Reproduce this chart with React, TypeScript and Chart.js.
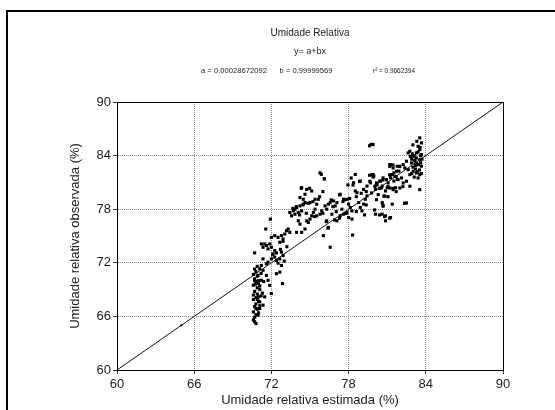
import React, { useEffect, useRef } from "react";
import { Chart, registerables } from "chart.js";

Chart.register(...registerables);

const titleText = "Umidade Relativa";
const modelText = "y= a+bx";
const statA = "a = 0.00028672092";
const statB = "b = 0.99999569";
const statR = "r² = 0.9662394";
const xTitle = "Umidade relativa estimada (%)";
const yTitle = "Umidade relativa observada (%)";
const tickValues = [60, 66, 72, 78, 84, 90];

// observed points [estimated, observed]
const obsX = [
  70.7, 70.8, 70.6, 70.9, 70.7, 70.8, 71.0, 70.6, 70.9, 71.1, 70.7, 70.9, 71.2, 70.8, 70.6, 71.0, 70.8, 70.7, 70.9, 70.6, 70.8, 70.7, 70.6, 70.7, 70.8, 71.0, 71.1, 71.3, 71.2, 70.9, 70.7, 71.0, 70.6, 71.1, 70.8, 71.4,
  70.7, 71.56, 71.92, 71.22, 71.35, 71.61, 71.87, 71.74, 72.0, 71.48,
  71.35, 71.61, 71.74, 72.0, 72.26, 72.39, 72.65, 72.91, 72.78, 72.52, 72.78, 72.13, 72.26,
  71.22, 71.09, 71.35, 71.61, 70.96, 71.22, 71.74, 71.87, 72.0, 71.48, 71.09, 71.35, 71.09, 70.96,
  72.65, 72.86, 72.39,
  72.52, 72.78, 73.04, 73.17, 73.3, 73.43, 72.91, 72.65, 72.26, 72.0,
  73.43, 73.57, 73.7, 73.83, 73.96, 73.83, 74.09, 74.22, 74.35, 74.48, 74.09, 74.22, 73.96, 74.35, 74.61, 74.74, 74.87, 75.0, 75.13, 75.26, 75.39, 75.52, 75.65, 75.0, 74.61, 74.48, 74.22, 74.35, 74.74, 74.61, 75.13, 75.39, 75.52, 75.78, 75.91, 76.17, 76.3, 76.43, 76.57, 76.83, 77.09, 76.96, 76.7, 76.3, 76.43, 76.04, 76.57, 77.09, 77.35, 77.61, 77.87, 77.48, 77.35, 77.61, 77.87, 78.0, 78.13, 78.26, 78.0, 78.26, 78.39, 78.52, 78.65, 78.78, 78.91, 79.04, 79.17, 79.3, 79.43, 79.17, 78.91, 79.43, 79.7, 79.83, 79.96, 80.09, 80.22, 80.48, 80.61, 80.74, 80.87, 81.0, 81.26, 81.39, 81.52, 81.65, 81.78, 81.91, 81.52, 81.26, 81.78, 80.09, 80.61, 80.87, 81.26, 80.87, 81.39, 80.61, 75.78, 76.1, 78.31, 78.52,
  79.76, 79.63, 75.88, 76.13, 74.32, 74.97, 78.34, 78.2, 78.85, 79.63, 79.9, 81.2, 81.45, 81.96, 81.19, 81.7, 80.67, 80.15, 80.4, 81.06, 81.45, 79.37, 78.98, 78.6, 78.08, 77.56, 77.3, 76.65, 76.0, 75.75, 75.23, 74.84, 74.45, 73.93, 73.67, 74.19, 74.71, 75.36, 76.0, 76.78, 77.04, 76.26, 76.39, 76.91, 77.3, 77.82, 78.6, 79.24, 79.37, 80.02, 80.4, 80.8, 81.19, 80.67, 81.06, 81.7, 82.22, 82.35, 77.95, 77.69,
  83.53, 83.66, 83.4, 83.53, 83.27, 83.66, 82.76, 82.63, 83.02, 83.27, 83.53, 83.15, 82.89, 83.4, 83.66, 82.5, 82.24, 82.37, 82.63, 83.02, 83.27, 83.53, 83.4, 82.76, 81.98, 81.72, 81.46, 81.2, 81.33, 81.59, 81.85, 82.11, 82.24, 82.5, 82.76, 81.98, 81.2, 81.46, 80.94, 80.68, 80.42, 80.17, 79.91, 80.81, 80.68, 80.17, 80.3, 82.5, 83.53, 79.91, 79.65, 80.04, 79.78, 80.55, 81.07,
  83.1, 83.3, 83.6, 83.0, 83.5, 83.2, 82.9, 83.4, 83.6, 83.1, 82.9, 83.7, 83.3, 83.0, 83.45, 83.2, 83.55, 82.8,
  72.1, 72.4, 72.7, 73.0, 73.2, 72.9, 83.35, 83.15, 82.95, 83.65, 70.9, 71.0, 70.75
];
const obsY = [
  71.3, 71.0, 70.7, 70.5, 70.2, 69.9, 69.7, 69.5, 69.2, 69.0, 68.8, 68.5, 68.3, 68.1, 67.9, 67.7, 67.4, 67.1, 66.8, 66.5, 66.2, 65.9, 65.6, 65.4, 65.2, 70.0, 69.4, 68.6, 70.8, 71.6, 70.0, 68.2, 68.4, 67.2, 66.9, 69.9,
  73.11, 75.78, 76.89, 74.11, 73.74, 73.93, 74.11, 73.56, 73.74, 74.11,
  72.44, 71.89, 72.07, 72.44, 72.63, 72.26, 72.44, 72.81, 73.19, 71.96, 71.7, 73.0, 73.37,
  71.7, 71.33, 71.15, 70.59, 70.59, 70.04, 70.04, 69.48, 68.56, 68.19, 67.63, 67.26, 66.89, 66.15,
  70.96, 69.67, 70.78,
  74.85, 75.04, 75.22, 75.59, 75.78, 75.41, 74.67, 74.3, 75.04, 74.85,
  77.63, 77.26, 77.81, 78.0, 78.19, 77.44, 77.63, 78.37, 77.81, 78.56, 76.7, 76.33, 75.41, 75.41, 75.78, 76.7, 76.52, 76.89, 77.26, 77.63, 78.0, 78.56, 79.11, 78.74, 78.74, 79.11, 79.3, 80.41, 80.22, 79.67, 80.04, 79.11, 77.26, 77.44, 77.81, 78.37, 78.0, 78.56, 78.74, 78.93, 78.74, 78.37, 77.44, 76.7, 75.96, 75.04, 73.74, 76.7, 77.26, 77.44, 77.63, 78.0, 79.67, 79.11, 79.11, 78.56, 78.19, 77.81, 77.07, 76.89, 80.96, 80.04, 79.85, 78.74, 78.19, 77.81, 78.56, 79.11, 79.48, 80.22, 81.15, 80.59, 80.96, 81.89, 81.7, 80.22, 80.78, 81.15, 80.59, 79.48, 80.04, 80.41, 81.52, 81.89, 81.15, 80.41, 81.33, 82.26, 82.07, 83.0, 82.81, 77.44, 77.44, 77.26, 77.07, 76.7, 78.56, 78.74, 82.07, 81.41, 75.11, 81.89,
  85.27, 85.1, 81.9, 81.4, 80.34, 80.34, 80.7, 81.5, 81.1, 81.8, 81.6, 82.8, 82.96, 82.77, 81.84, 81.65, 81.28, 80.7, 80.34, 80.53, 80.34, 79.97, 79.78, 79.4, 79.2, 78.85, 79.6, 79.04, 79.97, 79.4, 78.85, 78.66, 78.48, 78.29, 78.1, 77.36, 77.54, 77.17, 77.54, 78.29, 77.73, 76.61, 75.87, 76.8, 76.99, 77.54, 77.73, 77.36, 78.48, 77.92, 77.36, 77.17, 76.99, 78.48, 79.4, 79.97, 80.53, 78.66, 80.72, 79.04,
  85.98, 85.42, 85.04, 84.67, 84.3, 84.11, 84.49, 84.3, 83.93, 83.74, 83.55, 83.37, 83.18, 82.99, 82.81, 83.37, 82.99, 82.62, 82.43, 82.25, 82.06, 81.87, 81.5, 81.87, 82.81, 82.25, 82.62, 82.99, 81.87, 81.69, 81.31, 81.5, 80.94, 81.13, 80.57, 80.38, 80.38, 80.19, 81.31, 81.5, 81.13, 80.94, 81.87, 79.45, 78.33, 79.07, 79.63, 78.7, 80.19, 85.23, 81.13, 80.57, 79.82, 80.38, 80.94,
  84.0, 83.1, 83.2, 82.7, 82.4, 82.9, 83.6, 84.4, 84.0, 81.6, 82.0, 83.6, 85.6, 85.2, 83.0, 82.5, 84.9, 83.9,
  72.9, 73.1, 73.5, 72.2, 73.8, 74.4, 82.2, 83.5, 84.2, 82.0, 67.9, 66.4, 69.6
];

const lineX = [60, 90];
const lineY = [60, 90];
const singleX = [65];
const singleY = [65];

const FONT = "'Liberation Sans', Arial, sans-serif";

const decorPlugin = {
  id: "decor",
  afterDraw(chart: any) {
    const { ctx, chartArea } = chart;
    ctx.save();
    ctx.strokeStyle = "#000";
    ctx.lineWidth = 1;
    ctx.strokeRect(
      Math.round(chartArea.left) + 0.5,
      Math.round(chartArea.top) + 0.5,
      Math.round(chartArea.right - chartArea.left),
      Math.round(chartArea.bottom - chartArea.top)
    );
    ctx.lineWidth = 2;
    ctx.beginPath();
    ctx.moveTo(7, 410);
    ctx.lineTo(7, 11);
    ctx.lineTo(555, 11);
    ctx.stroke();
    const cx = (chartArea.left + chartArea.right) / 2;
    ctx.fillStyle = "#222";
    ctx.textAlign = "center";
    ctx.textBaseline = "middle";
    ctx.font = `10px ${FONT}`;
    ctx.fillText(titleText, cx, 33, 88);
    ctx.font = `9px ${FONT}`;
    ctx.fillText(modelText, cx, 52, 38);
    ctx.font = `8px ${FONT}`;
    ctx.fillText(statA, 234, 71, 66);
    ctx.fillText(statB, 306, 71, 53);
    ctx.fillText(statR, 394, 71, 42);
    ctx.restore();
  },
};

export default function App() {
  const ref = useRef<HTMLCanvasElement | null>(null);
  useEffect(() => {
    if (!ref.current) return;
    const scatterData = obsX.map((x, i) => ({ x, y: obsY[i] }));
    const lineData = lineX.map((x, i) => ({ x, y: lineY[i] }));
    const singleData = singleX.map((x, i) => ({ x, y: singleY[i] }));
    const axisCommon = (title: string) => ({
      type: "linear" as const,
      min: 60,
      max: 90,
      afterBuildTicks: (scale: any) => {
        scale.ticks = tickValues.map((v) => ({ value: v }));
      },
      ticks: {
        color: "#222",
        font: { family: FONT, size: 13 },
        padding: 2,
      },
      grid: {
        color: "#8c8c8c",
        lineWidth: 1,
        tickLength: 4,
        tickColor: "#333",
        tickWidth: 1,
        tickBorderDash: [],
      },
      border: { display: true, color: "#000", width: 1, dash: [1, 1] },
      title: {
        display: true,
        text: title,
        color: "#222",
        font: { family: FONT, size: 13 },
        padding: { top: 0, bottom: 2 },
      },
    });
    const xAxis: any = axisCommon(xTitle);
    xAxis.position = "bottom";
    xAxis.afterFit = (s: any) => {
      s.height = 40;
    };
    xAxis.ticks.padding = 3;
    const yAxis: any = axisCommon(yTitle);
    yAxis.position = "left";
    yAxis.afterFit = (s: any) => {
      s.width = 49;
    };
    const chart = new Chart(ref.current, {
      type: "scatter",
      data: {
        datasets: [
          {
            type: "line",
            data: lineData,
            borderColor: "#111",
            borderWidth: 1,
            pointRadius: 0,
            fill: false,
          } as any,
          {
            data: scatterData,
            backgroundColor: "#000",
            borderWidth: 0,
            pointStyle: "rect",
            pointRadius: 2.2,
          },
          {
            data: singleData,
            backgroundColor: "#000",
            borderWidth: 0,
            pointStyle: "rect",
            pointRadius: 1.4,
          },
        ],
      },
      options: {
        responsive: false,
        animation: false,
        layout: { padding: { left: 68, right: 52, top: 102, bottom: 0 } },
        plugins: {
          legend: { display: false },
          tooltip: { enabled: false },
          title: { display: false },
        },
        scales: { x: xAxis, y: yAxis },
      },
      plugins: [decorPlugin],
    });
    return () => chart.destroy();
  }, []);
  return (
    <div
      style={{
        position: "fixed",
        left: 0,
        top: 0,
        width: 555,
        height: 410,
        background: "#fff",
      }}
    >
      <canvas ref={ref} width={555} height={410} />
    </div>
  );
}
